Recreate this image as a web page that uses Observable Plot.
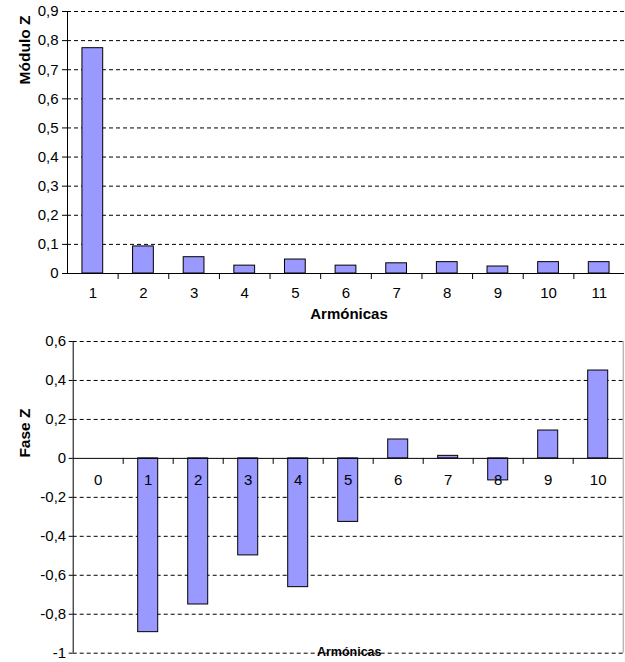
<!DOCTYPE html>
<html><head><meta charset="utf-8">
<script src="https://cdn.jsdelivr.net/npm/d3@7"></script>
<script src="https://cdn.jsdelivr.net/npm/@observablehq/plot@0.6"></script>
<style>
body{margin:0;background:#fff;}
#c{width:625px;height:662px;position:relative;background:#fff;}
svg{display:block}
</style>
</head><body><div id="c"></div>
<script>
// ---- Data ----
const harmonicsTop = [1, 2, 3, 4, 5, 6, 7, 8, 9, 10, 11];
const moduloZ = [0.774, 0.093, 0.056, 0.027, 0.048, 0.027, 0.035, 0.039, 0.024, 0.039, 0.039];
const yTicksTop = [0, 0.1, 0.2, 0.3, 0.4, 0.5, 0.6, 0.7, 0.8, 0.9];

const harmonicsBottom = [0, 1, 2, 3, 4, 5, 6, 7, 8, 9, 10];
const faseZ = [0, -0.892, -0.75, -0.498, -0.661, -0.326, 0.097, 0.013, -0.113, 0.143, 0.451];
const yTicksBottom = [0.6, 0.4, 0.2, 0, -0.2, -0.4, -0.6, -0.8, -1];

const xTitle = "Armónicas";
const yTitleTop = "Módulo Z";
const yTitleBottom = "Fase Z";

// ---- Helpers ----
const fmt = d => String(+d.toFixed(1)).replace(".", ",");
const barFill = "#9999ff";
const font = "'Liberation Sans', Arial, sans-serif";
const topData = harmonicsTop.map((h, i) => ({h, v: moduloZ[i]}));
const botData = harmonicsBottom.map((h, i) => ({h, v: faseZ[i]}));
const boundsTop = harmonicsTop.slice(0, -1).map(h => h + 0.5);
const boundsBot = harmonicsBottom.slice(0, -1).map(h => h + 0.5);
const dash = "4,3";

const topChart = Plot.plot({
  width: 625, height: 330,
  marginTop: 11, marginBottom: 57, marginLeft: 67, marginRight: 1,
  style: {fontFamily: font, fontSize: "15px", color: "black", background: "white", overflow: "visible"},
  x: {type: "linear", domain: [harmonicsTop[0] - 0.5, harmonicsTop[harmonicsTop.length - 1] + 0.5], axis: null},
  y: {domain: [0, 0.9]},
  marks: [
    Plot.ruleY(yTicksTop.filter(d => d !== 0), {stroke: "black", strokeDasharray: dash}),
    Plot.rectY(topData, {x1: d => d.h - 0.205, x2: d => d.h + 0.205, y1: () => 0, y2: "v", fill: barFill, stroke: "black", strokeWidth: 1}),
    Plot.ruleY([0], {stroke: "black"}),
    Plot.ruleX([harmonicsTop[0] - 0.5], {stroke: "black"}),
    Plot.ruleX(boundsTop, {x: d => d, y1: () => 0, y2: () => 0, insetBottom: -6, stroke: "black"}),
    Plot.axisY(yTicksTop, {tickFormat: fmt, tickSize: 5, tickPadding: 4, label: null, fontSize: 15}),
    Plot.text(harmonicsTop, {x: d => d, y: () => 0, dy: 20, text: d => String(d), fontSize: 15}),
    Plot.text([xTitle], {frameAnchor: "bottom", dy: 45, dx: 3, text: d => d, fontWeight: "bold", fontSize: 15}),
    Plot.text([yTitleTop], {frameAnchor: "top-left", dx: -49, dy: 4, rotate: -90, textAnchor: "end", text: d => d, fontWeight: "bold", fontSize: 15.5})
  ]
});

const botChart = Plot.plot({
  width: 625, height: 332,
  marginTop: 11, marginBottom: 9.3, marginLeft: 72.7, marginRight: 2.3,
  style: {fontFamily: font, fontSize: "15px", color: "black", background: "white", overflow: "visible"},
  x: {type: "linear", domain: [harmonicsBottom[0] - 0.5, harmonicsBottom[harmonicsBottom.length - 1] + 0.5], axis: null},
  y: {domain: [-1, 0.6]},
  marks: [
    Plot.ruleY(yTicksBottom.filter(d => d !== 0), {stroke: "black", strokeDasharray: dash}),
    Plot.ruleX([harmonicsBottom[harmonicsBottom.length - 1] + 0.5], {stroke: "#9a9a9a"}),
    Plot.rectY(botData.filter(d => d.v !== 0), {x1: d => d.h - 0.2, x2: d => d.h + 0.2, y1: () => 0, y2: "v", fill: barFill, stroke: "black", strokeWidth: 1}),
    Plot.ruleY([0], {stroke: "black"}),
    Plot.ruleX([harmonicsBottom[0] - 0.5], {stroke: "black"}),
    Plot.ruleX(boundsBot, {x: d => d, y1: () => 0, y2: () => 0, insetBottom: -6, stroke: "black"}),
    Plot.axisY(yTicksBottom, {tickFormat: fmt, tickSize: 4, tickPadding: 3, label: null, fontSize: 15}),
    Plot.text(harmonicsBottom, {x: d => d, y: () => 0, dy: 22, text: d => String(d), fontSize: 15}),
    Plot.text([xTitle], {frameAnchor: "bottom", dy: 2.5, dx: 1, text: d => d, fontWeight: "bold", fontSize: 12.5}),
    Plot.text([yTitleBottom], {frameAnchor: "top-left", dx: -54.7, dy: 67, rotate: -90, textAnchor: "end", text: d => d, fontWeight: "bold", fontSize: 15.5})
  ]
});

const c = document.getElementById("c");
c.appendChild(topChart);
c.appendChild(botChart);
</script>
</body></html>
